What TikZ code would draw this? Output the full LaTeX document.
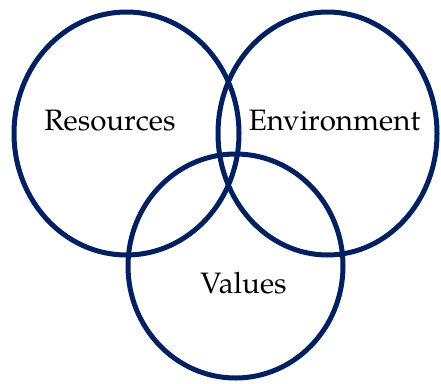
\documentclass[tikz,border=0pt]{standalone}
\usepackage{fontspec}
\setmainfont{TeX Gyre Pagella}
\definecolor{navy}{HTML}{002060}
\begin{document}
\begin{tikzpicture}[x=1pt,y=-1pt,
  ring/.style={draw=navy,line width=5pt},
  lbl/.style={anchor=base,inner sep=0pt,font=\fontsize{29.5}{34}\selectfont,text=black}]
\useasboundingbox (0,0) rectangle (441,383);
\draw[ring] (126.5,133.5) ellipse [x radius=112.5, y radius=121.5];
\draw[ring] (327.5,133.5) ellipse [x radius=109.5, y radius=121.5];
\draw[ring] (235.5,266) ellipse [x radius=107.5, y radius=112];
\node[lbl] (res) at (110,130) {Resources};
\node[lbl] (env) at (334.5,130) {Environment};
\node[lbl] (val) at (243.5,293) {Values};
\end{tikzpicture}
\end{document}
